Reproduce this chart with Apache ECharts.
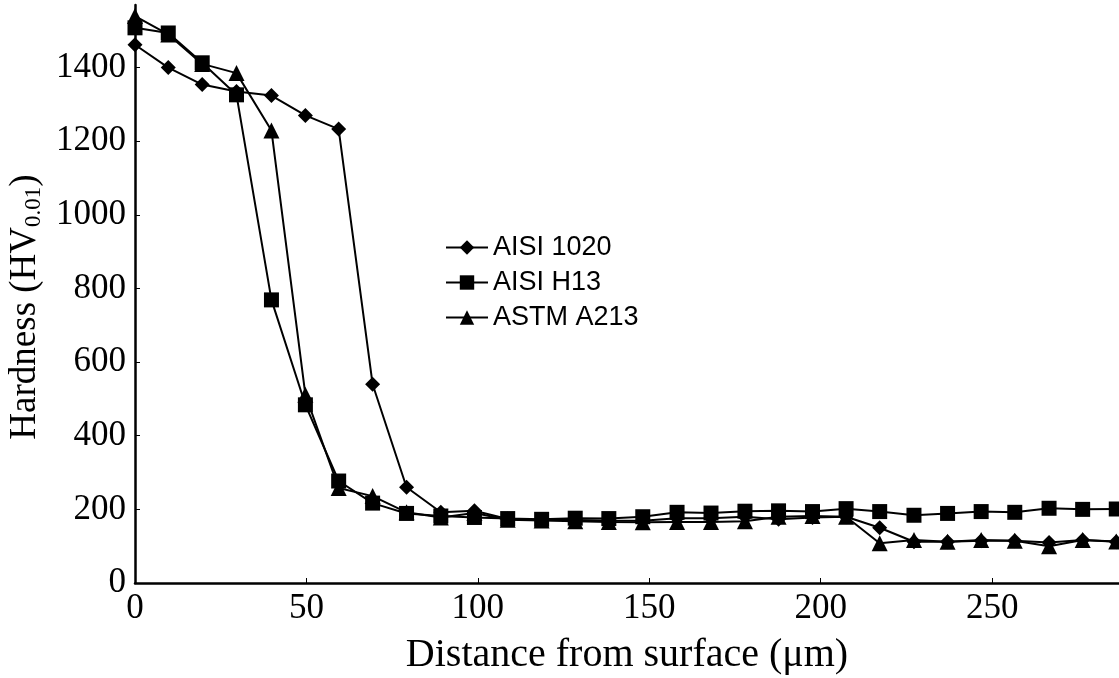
<!DOCTYPE html>
<html>
<head>
<meta charset="utf-8">
<script src="https://cdn.jsdelivr.net/npm/echarts@6/dist/echarts.min.js"></script>
<style>
  html, body { margin: 0; padding: 0; background: #fff; }
  #chart { width: 1119px; height: 678px; }
</style>
</head>
<body>
<div id="chart"></div>
<script>
// depth positions (um)
const depth = [0, 9.7, 19.6, 29.6, 39.8, 49.7, 59.4, 69.3, 79.2, 89.2, 99, 108.7, 118.6, 128.4, 138.2,
    148.1, 158.1, 168, 177.9, 187.7, 197.6, 207.4, 217.2, 227.2, 237, 246.8, 256.6, 266.6, 276.4, 286.2];

const aisi1020 = [1462, 1400, 1354, 1335, 1324, 1270, 1233, 540, 260, 192, 196, 174, 171, 171, 169,
    169, 176, 176, 180, 173, 178, 180, 150, 112, 112, 115, 115, 110, 117, 112];
const aisiH13 = [1508, 1494, 1413, 1326, 769, 484, 277, 217, 189, 182, 178, 175, 173, 176, 175,
    180, 192, 190, 195, 196, 194, 202, 194, 184, 189, 194, 192, 203, 200, 201];
const astmA213 = [1540, 1490, 1410, 1385, 1229, 511, 258, 236, 192, 178, 190, 172, 170, 168, 166,
    165, 166, 166, 168, 180, 182, 180, 108, 117, 112, 117, 115, 100, 117, 113];

const seriesNames = ['AISI 1020', 'AISI H13', 'ASTM A213'];
const symbols = ['diamond', 'rect', 'triangle'];

function pairs(ys) {
    return ys.map((y, i) => [depth[i], y]);
}

const chartDom = document.getElementById('chart');
const myChart = echarts.init(chartDom);
const serif = 'Liberation Serif, Times New Roman, serif';

const option = {
    backgroundColor: '#fff',
    animation: false,
    grid: {
        left: 135,
        right: 0,
        top: 5,
        bottom: 95,
        outerBoundsMode: 'none'
    },
    legend: {
        orient: 'vertical',
        left: 440,
        top: 229,
        itemWidth: 42,
        itemHeight: 18,
        itemGap: 8,
        textStyle: {
            fontFamily: 'Liberation Sans, Arial, sans-serif',
            fontSize: 27,
            color: '#000'
        },
        data: seriesNames
    },
    xAxis: {
        type: 'value',
        min: 0,
        max: 287,
        interval: 50,
        name: 'Distance from surface (\u03bcm)',
        nameLocation: 'middle',
        nameGap: 52,
        nameTextStyle: { fontFamily: serif, fontSize: 40, color: '#000' },
        axisLine: { lineStyle: { color: '#000', width: 2.5 } },
        axisTick: { inside: true, length: 5, lineStyle: { color: '#000' } },
        axisLabel: { fontFamily: serif, fontSize: 35, color: '#000', margin: 8, showMaxLabel: false },
        splitLine: { show: false }
    },
    yAxis: {
        type: 'value',
        min: 0,
        max: 1570,
        interval: 200,
        name: '{a|Hardness (HV}{b|0.01}{a|)}',
        nameLocation: 'middle',
        nameGap: 72,
        nameTextStyle: {
            padding: [0, 26, 0, 0],
            rich: {
                a: { fontFamily: serif, fontSize: 37, color: '#000' },
                b: { fontFamily: serif, fontSize: 23, color: '#000', padding: [16, 0, 0, 0] }
            }
        },
        axisLine: { show: true, lineStyle: { color: '#000', width: 2.5 } },
        axisTick: { show: true, inside: true, length: 5, lineStyle: { color: '#000' } },
        axisLabel: {
            fontFamily: serif, fontSize: 35, color: '#000', margin: 9, showMaxLabel: false,
            formatter: v => String(v)
        },
        splitLine: { show: false }
    },
    series: [aisi1020, aisiH13, astmA213].map((ys, i) => ({
        name: seriesNames[i],
        type: 'line',
        data: pairs(ys),
        symbol: symbols[i],
        symbolSize: i === 2 ? 16 : 15,
        clip: false,
        lineStyle: { color: '#000', width: 2 },
        itemStyle: { color: '#000' }
    }))
};

option && myChart.setOption(option);
</script>
</body>
</html>
